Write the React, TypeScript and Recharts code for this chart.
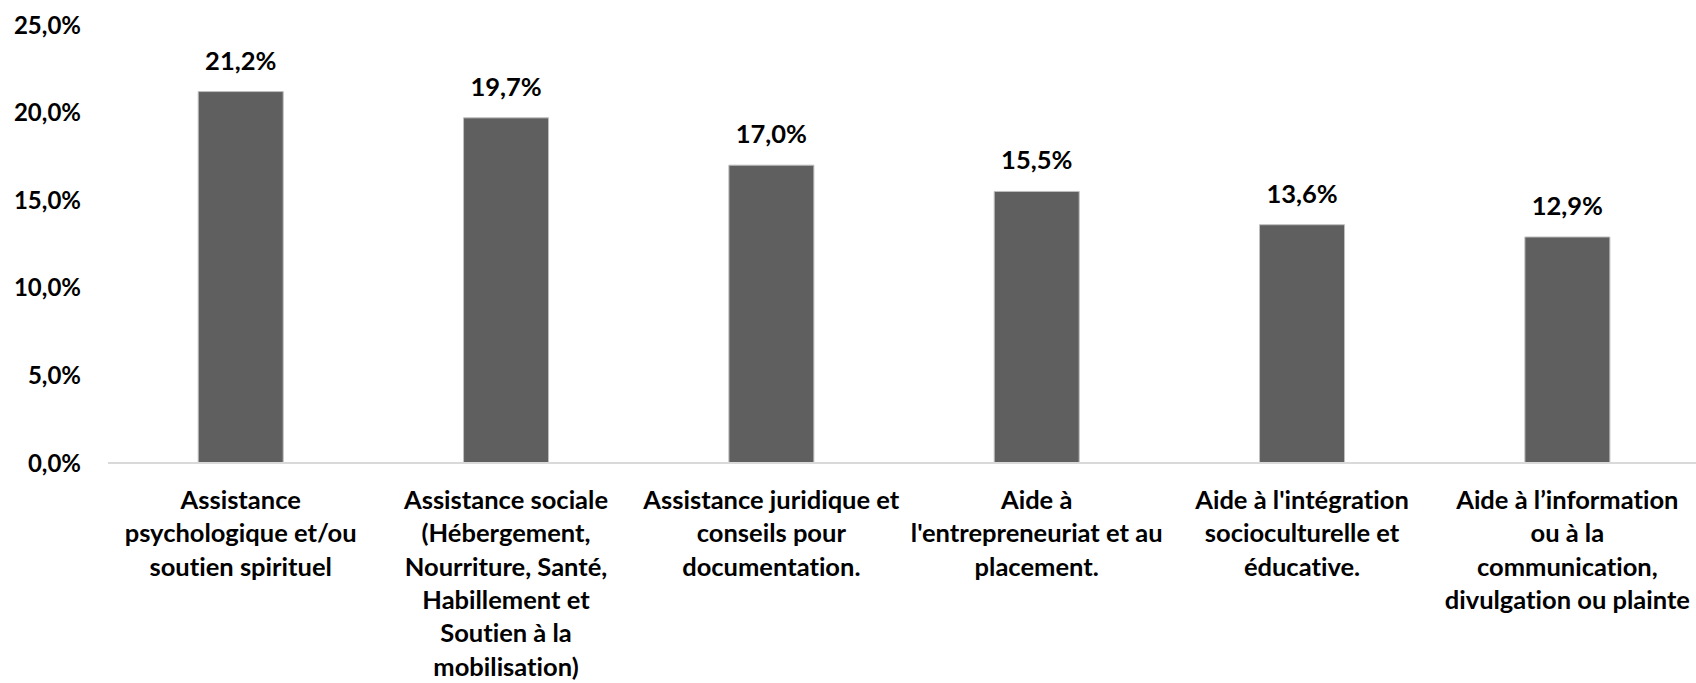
import React from "react";
import { BarChart, Bar, XAxis, YAxis, LabelList } from "recharts";

const categoryLines: string[][] = [
  ["Assistance", "psychologique et/ou", "soutien spirituel"],
  [
    "Assistance sociale",
    "(Hébergement,",
    "Nourriture, Santé,",
    "Habillement et",
    "Soutien à la",
    "mobilisation)",
  ],
  ["Assistance juridique et", "conseils pour", "documentation."],
  ["Aide à", "l'entrepreneuriat et au", "placement."],
  ["Aide à l'intégration", "socioculturelle et", "éducative."],
  ["Aide à l’information", "ou à la", "communication,", "divulgation ou plainte"],
];
const values = [21.2, 19.7, 17.0, 15.5, 13.6, 12.9];
const yTicks = [0, 5, 10, 15, 20, 25];

const data = categoryLines.map((lines, i) => ({
  name: lines.join(" "),
  value: values[i],
}));

const FONT = "Lato, 'Open Sans', sans-serif";
const noLiga = { fontVariantLigatures: "none" as const };

const fmt = (v: number) => v.toFixed(1).replace(".", ",") + "%";

const CategoryTick = (props: any) => {
  const { x, y, index } = props;
  const lines = categoryLines[index] || [];
  return (
    <g transform={`translate(${x},${y})`}>
      <text
        textAnchor="middle"
        fill="#000"
        fontFamily={FONT}
        fontWeight="bold"
        fontSize={25.5}
        style={noLiga}
      >
        {lines.map((l, i) => (
          <tspan key={i} x={0} y={46 + i * 33.3}>
            {l}
          </tspan>
        ))}
      </text>
    </g>
  );
};

export default function App() {
  return (
    <div
      style={{
        position: "absolute",
        left: 0,
        top: 0,
        width: 1696,
        height: 683,
        overflow: "hidden",
        background: "#fff",
      }}
    >
      <BarChart
        width={1700}
        height={683}
        data={data}
        margin={{ top: 25, right: 0, left: 0, bottom: 0 }}
        barCategoryGap="34%"
      >
        <XAxis
          dataKey="name"
          height={220}
          axisLine={{ stroke: "#d9d9d9", strokeWidth: 2 }}
          tickLine={false}
          tickSize={0}
          tickMargin={0}
          interval={0}
          tick={<CategoryTick />}
        />
        <YAxis
          width={108}
          domain={[0, 25]}
          ticks={yTicks}
          axisLine={false}
          tickLine={false}
          tickSize={0}
          tickMargin={27}
          tickFormatter={fmt}
          tick={{
            fill: "#000",
            fontFamily: FONT,
            fontWeight: "bold",
            fontSize: 24,
          }}
        />
        <Bar
          dataKey="value"
          fill="#5f5f5f"
          stroke="#bfbfbf"
          strokeWidth={1}
          isAnimationActive={false}
        >
          <LabelList
            dataKey="value"
            position="top"
            offset={22}
            formatter={(v: any) => fmt(Number(v))}
            fill="#000"
            fontFamily={FONT}
            fontWeight="bold"
            fontSize={25.5}
          />
        </Bar>
      </BarChart>
    </div>
  );
}
